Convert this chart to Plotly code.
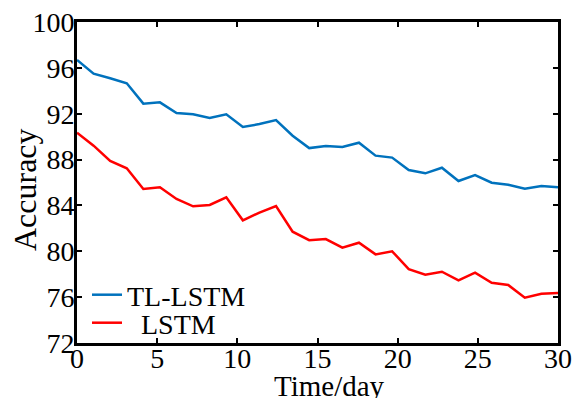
import numpy as np
import plotly.graph_objects as go

days = np.linspace(0, 30, 30)
tl_lstm = [96.69, 95.49, 95.09, 94.65, 92.88, 92.99, 92.06, 91.95, 91.63, 91.95,
           90.84, 91.10, 91.45, 90.08, 89.00, 89.18, 89.10, 89.47, 88.34, 88.17,
           87.09, 86.80, 87.29, 86.13, 86.65, 85.98, 85.81, 85.46, 85.69, 85.58]
lstm = [90.35, 89.21, 87.88, 87.24, 85.43, 85.58, 84.56, 83.92, 84.04, 84.71,
        82.70, 83.37, 83.95, 81.71, 80.97, 81.07, 80.31, 80.75, 79.73, 80.00,
        78.45, 77.96, 78.22, 77.46, 78.13, 77.26, 77.06, 75.95, 76.30, 76.36]
x_ticks = [0, 5, 10, 15, 20, 25, 30]
y_ticks = [72, 76, 80, 84, 88, 92, 96, 100]

FONT = "Liberation Serif"
L, R, T, B = 77, 16, 22, 55
W, H = 574, 398
PW, PH = W - L - R, H - T - B

fig = go.Figure()
fig.add_trace(go.Scatter(x=days, y=tl_lstm, mode="lines", name="TL-LSTM",
                         line=dict(color="#0072BD", width=2.5), legend="legend"))
fig.add_trace(go.Scatter(x=days, y=lstm, mode="lines", name="\u00a0\u00a0LSTM",
                         line=dict(color="#FF0000", width=2.5), legend="legend2"))

axis_common = dict(showline=True, linecolor="black", linewidth=3, mirror="ticks",
                   ticks="inside", ticklen=5, tickwidth=2, tickcolor="black",
                   showgrid=False, zeroline=False, automargin=False,
                   tickfont=dict(family=FONT, size=28, color="black"))

legend_common = dict(xanchor="left", yanchor="middle", bgcolor="rgba(0,0,0,0)",
                     font=dict(family=FONT, size=28, color="black"), itemwidth=30)

fig.update_layout(
    width=W, height=H,
    margin=dict(l=L, r=R, t=T, b=B),
    paper_bgcolor="white", plot_bgcolor="white",
    showlegend=True,
    legend=dict(x=10 / PW, y=(H - B - 295) / PH, **legend_common),
    legend2=dict(x=10 / PW, y=(H - B - 323) / PH, **legend_common),
    xaxis=dict(range=[0, 30], tickvals=x_ticks, ticktext=[str(v) for v in x_ticks],
               ticklabelstandoff=-12, **axis_common),
    yaxis=dict(range=[72, 100], tickvals=y_ticks, ticktext=[str(v) for v in y_ticks],
               ticklabelstandoff=-6, **axis_common),
)

fig.add_annotation(text="Time/day", xref="paper", yref="paper",
                   x=(329 - L) / PW, y=(H - B - 386) / PH,
                   xanchor="center", yanchor="middle", showarrow=False,
                   font=dict(family=FONT, size=29, color="black"))
fig.add_annotation(text="Accuracy", xref="paper", yref="paper",
                   x=(25 - L) / PW, y=(H - B - 190) / PH, textangle=-90,
                   xanchor="center", yanchor="middle", showarrow=False,
                   font=dict(family=FONT, size=32, color="black"))

fig.write_html("out.html", config={"displayModeBar": False},
               post_script="document.body.style.margin='0px';")
